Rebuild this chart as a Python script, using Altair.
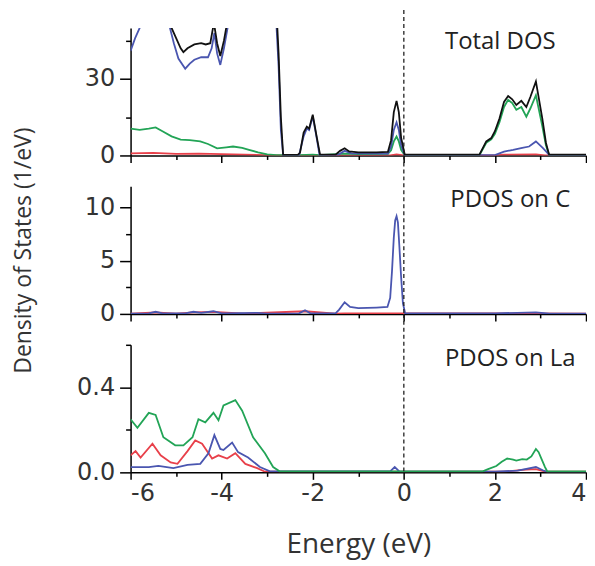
import altair as alt
import pandas as pd

# ---------------- data ----------------
x_ticks = [-6, -5, -4, -3, -2, -1, 0, 1, 2, 3, 4]

# Panel 1: Total DOS
tot_E = [-6.0, -5.5, -5.2, -5.1, -5.0, -4.9, -4.84, -4.75, -4.6, -4.45, -4.35, -4.25, -4.17, -4.1, -4.03,
         -3.95, -3.88, -3.7, -3.3, -3.0, -2.8, -2.75, -2.7, -2.65, -2.33, -2.28, -2.2, -2.13, -2.08, -2.0,
         -1.92, -1.84, -1.5, -1.4, -1.3, -1.2, -1.0, -0.6, -0.35, -0.28, -0.22, -0.16, -0.11, -0.06, 0.02,
         1.66, 1.81, 1.92, 2.0, 2.1, 2.2, 2.29, 2.38, 2.47, 2.58, 2.69, 2.78, 2.9, 3.04, 3.12, 3.19, 4.0]
tot_black = [55, 62, 58, 50, 46, 42, 40.5, 42, 43.5, 44, 43.5, 44, 52, 44, 39,
             45, 52, 60, 62, 60, 58, 40, 15, 0.2, 0.2, 1, 9, 11.3, 10.5, 16,
             8, 0.3, 0.3, 1.8, 2.8, 1.6, 1.2, 1.2, 1.4, 6, 17, 21.4, 17, 7, 0.3,
             0.3, 5.5, 6.8, 9.5, 14.5, 21, 23.3, 22, 19.8, 21.4, 19, 23, 29, 14.5, 5, 0.3, 0.3]

tb_E = [-6.0, -5.9, -5.8, -5.7, -5.5, -5.3, -5.15, -5.05, -4.95, -4.8, -4.7, -4.6, -4.45, -4.3, -4.22,
        -4.16, -4.1, -4.03, -3.95, -3.86, -3.7, -3.3, -3.0, -2.8, -2.75, -2.7, -2.65, -2.3, -2.2, -2.13,
        -2.08, -2.0, -1.92, -1.85, -1.45, -1.3, -1.15, -0.35, -0.28, -0.22, -0.16, -0.11, -0.06, 0.02,
        2.0, 2.2, 2.4, 2.6, 2.75, 2.9, 3.05, 3.2, 4.0]
tot_blue = [41, 46, 50, 56, 62, 58, 51, 44, 38, 34, 36, 37.5, 38.5, 38.5, 42,
            48, 40, 35.5, 42, 51, 58, 58, 55, 52, 35, 10, 0.1, 0.1, 7.5, 10.6,
            10, 15.3, 7.5, 0.1, 0.2, 1.8, 0.8, 0.7, 3.5, 10, 13, 10, 4, 0.1,
            0.1, 1.5, 2.2, 3, 3.5, 5.5, 3, 0.1, 0.1]

tg_E = [-6.0, -5.8, -5.6, -5.45, -5.3, -5.1, -4.9, -4.7, -4.47, -4.3, -4.1, -3.9, -3.75, -3.55, -3.4,
        -3.2, -3.0, -2.8, -2.3, -2.0, -1.85, -1.3, -1.0, -0.35, -0.28, -0.22, -0.16, -0.11, -0.06, 0.02,
        1.66, 1.81, 1.92, 2.0, 2.1, 2.2, 2.29, 2.38, 2.47, 2.58, 2.69, 2.78, 2.9, 3.04, 3.12, 3.19, 4.0]
tot_green = [10.5, 10, 10.5, 11, 9.5, 7.5, 6.2, 6, 5.5, 4.5, 2.8, 3.2, 3.5, 3, 2.2,
             1.2, 0.4, 0.1, 0.1, 0.3, 0.1, 0.7, 0.5, 0.6, 2, 5.5, 7.4, 5.5, 2.2, 0.1,
             0.1, 5, 6.3, 8.5, 13, 19, 21.8, 20.5, 17.9, 19, 15.2, 18.5, 23.6, 11.5, 4, 0.1, 0.1]

tr_E = [-6.0, -5.5, -5.0, -4.5, -4.0, -3.5, -3.0, -2.7, -0.3, -0.16, 0.0, 2.0, 2.2, 2.9, 3.1, 4.0]
tot_red = [0.8, 1.0, 0.6, 0.7, 0.5, 0.3, 0.1, 0.05, 0.05, 0.4, 0.05, 0.05, 0.3, 0.4, 0.05, 0.05]

# Panel 2: PDOS on C
cb_E = [-6.0, -5.6, -5.45, -5.3, -4.8, -4.62, -4.45, -4.18, -4.0, -3.22, -3.0, -2.3, -2.17, -2.05, -1.5,
        -1.42, -1.3, -1.18, -1.0, -0.6, -0.36, -0.3, -0.26, -0.22, -0.19, -0.16, -0.13, -0.1, -0.06,
        -0.02, 0.03, 2.0, 2.9, 3.2, 4.0]
c_blue = [0.02, 0.05, 0.2, 0.05, 0.05, 0.2, 0.1, 0.25, 0.05, 0.1, 0.02, 0.05, 0.35, 0.05, 0.05,
          0.4, 1.1, 0.65, 0.55, 0.6, 0.65, 1.5, 4.0, 7.2, 8.8, 9.2, 8.6, 6.5, 3.5,
          1.0, 0.05, 0.05, 0.15, 0.02, 0.02]
cr_E = [-6.0, -5.45, -5.0, -4.62, -4.18, -3.5, -2.17, -1.5, -1.3, 0.0, 2.5, 4.0]
c_red = [0.02, 0.15, 0.03, 0.15, 0.2, 0.03, 0.25, 0.02, 0.05, 0.05, 0.05, 0.02]

# Panel 3: PDOS on La
lg_E = [-6.0, -5.85, -5.6, -5.45, -5.28, -5.02, -4.84, -4.64, -4.51, -4.36, -4.18, -4.07, -3.96, -3.7,
        -3.55, -3.31, -3.05, -2.87, -2.72, 0.0, 1.72, 1.85, 2.03, 2.15, 2.27, 2.4, 2.47, 2.6, 2.7, 2.8,
        2.9, 2.96, 3.02, 3.1, 3.15, 4.0]
la_green = [0.25, 0.21, 0.28, 0.27, 0.165, 0.127, 0.127, 0.165, 0.25, 0.235, 0.28, 0.245, 0.315, 0.34,
            0.29, 0.165, 0.09, 0.025, 0.004, 0.004, 0.004, 0.015, 0.03, 0.05, 0.065, 0.06, 0.055, 0.062,
            0.06, 0.075, 0.11, 0.095, 0.065, 0.025, 0.004, 0.004]
lr_E = [-6.0, -5.89, -5.78, -5.52, -5.34, -5.12, -4.97, -4.75, -4.58, -4.43, -4.21, -4.07, -3.88, -3.7,
        -3.48, -3.22, -3.05, 2.2, 2.6, 2.9, 3.1, 4.0]
la_red = [0.08, 0.10, 0.07, 0.135, 0.08, 0.047, 0.04, 0.10, 0.15, 0.135, 0.065, 0.08, 0.065, 0.09,
          0.04, 0.02, 0.003, 0.003, 0.012, 0.015, 0.003, 0.003]
lb_E = [-6.0, -5.6, -5.39, -5.06, -4.75, -4.47, -4.29, -4.16, -4.03, -3.96, -3.77, -3.64, -3.42, -3.16,
        -2.94, -0.3, -0.2, -0.1, 2.0, 2.5, 2.9, 3.05, 3.15, 4.0]
la_blue = [0.025, 0.025, 0.03, 0.02, 0.035, 0.04, 0.09, 0.175, 0.11, 0.105, 0.14, 0.095, 0.07, 0.025,
           0.005, 0.005, 0.025, 0.005, 0.003, 0.008, 0.025, 0.01, 0.002, 0.002]

panel_labels = ["Total DOS", "PDOS on C", "PDOS on La"]

# ---------------- styling ----------------
W, H = 457, 128
GAP = 31
BLACK, BLUE, GREEN, RED = "#111111", "#4a56b0", "#22a456", "#e8404a"
TICK_FONT = "DejaVu Sans"
TITLE_FONT = "Open Sans"
TXT = "#333333"

XSCALE = alt.Scale(domain=[-6, 4], nice=False, zero=False)


def xaxis(bottom):
    kw = dict(values=x_ticks,
              tickSize={"condition": {"test": "abs(datum.value) % 2 == 1", "value": 4}, "value": 7},
              grid=False, labelPadding=2)
    if bottom:
        kw.update(labelExpr="abs(datum.value) % 2 == 1 ? '' : '' + datum.value",
                  title="Energy (eV)", titlePadding=25, titleFontSize=28)
    else:
        kw.update(labels=False, title=None)
    return alt.Axis(**kw)


def yaxis(vals, minor_test, fmt, title=None):
    kw = dict(values=vals,
              tickSize={"condition": {"test": minor_test, "value": 5}, "value": 11},
              labelExpr="(" + minor_test + ") ? '' : datum.label",
              grid=False, labelPadding=5)
    if fmt:
        kw["format"] = fmt
    if title:
        kw.update(title=title, titleX=-107, titleY=H / 2, titleAngle=-90,
                  titleBaseline="middle", titleAlign="center", titleFontSize=23)
    else:
        kw["title"] = None
    return alt.Axis(**kw)


def panel(series, ydom, yvals, minor_test, fmt, label, label_x, bottom=False, ytitle=None, rule_top=-GAP):
    ax_x = xaxis(bottom)
    ax_y = yaxis(yvals, minor_test, fmt, ytitle)
    yscale = alt.Scale(domain=ydom, nice=False, zero=False)
    layers = []
    for xs, ys, col in series:
        d = pd.DataFrame({"E": xs, "D": ys})
        layers.append(
            alt.Chart(d).mark_line(color=col, strokeWidth=1.8, clip=True).encode(
                x=alt.X("E:Q", scale=XSCALE, axis=ax_x),
                y=alt.Y("D:Q", scale=yscale, axis=ax_y),
            )
        )
    rule = alt.Chart(pd.DataFrame({"E": [0]})).mark_rule(
        color="#222222", strokeDash=[4, 3], strokeWidth=1.3
    ).encode(x=alt.X("E:Q", scale=XSCALE, axis=ax_x), y=alt.value(rule_top), y2=alt.value(H))
    txt = alt.Chart(pd.DataFrame({"t": [label]})).mark_text(
        font=TITLE_FONT, fontSize=24, color="#222222", align="center", baseline="middle"
    ).encode(text="t:N", x=alt.value(label_x), y=alt.value(14))
    return alt.layer(*layers, rule, txt).properties(width=W, height=H)


p1 = panel([(tr_E, tot_red, RED), (tg_E, tot_green, GREEN), (tb_E, tot_blue, BLUE), (tot_E, tot_black, BLACK)],
           [0, 50], [0, 15, 30, 45], "datum.value == 15 || datum.value == 45", None,
           panel_labels[0], 371, rule_top=-18)
p2 = panel([(cr_E, c_red, RED), (cb_E, c_blue, BLUE)],
           [0, 12], [0, 2.5, 5, 7.5, 10], "datum.value == 2.5 || datum.value == 7.5", None,
           panel_labels[1], 381, ytitle="Density of States (1/eV)")
p3 = panel([(lr_E, la_red, RED), (lb_E, la_blue, BLUE), (lg_E, la_green, GREEN)],
           [0, 0.6], [0, 0.2, 0.4, 0.6], "datum.value > 0.1 && datum.value < 0.3 || datum.value > 0.5", ".1f",
           panel_labels[2], 381, bottom=True)

chart = alt.vconcat(p1, p2, p3, spacing=GAP, bounds="flush").properties(
    padding={"left": 4, "top": 0, "right": 0, "bottom": 6}
).configure_view(stroke=None).configure_axis(
    domainColor="#000000", domainWidth=1.5, tickColor="#000000", tickWidth=1.5,
    labelFont=TICK_FONT, labelFontSize=24, labelColor=TXT,
    titleFont=TITLE_FONT, titleColor=TXT, titleFontWeight="normal",
)

chart.save("out.html", embed_options={"renderer": "svg", "actions": False})
